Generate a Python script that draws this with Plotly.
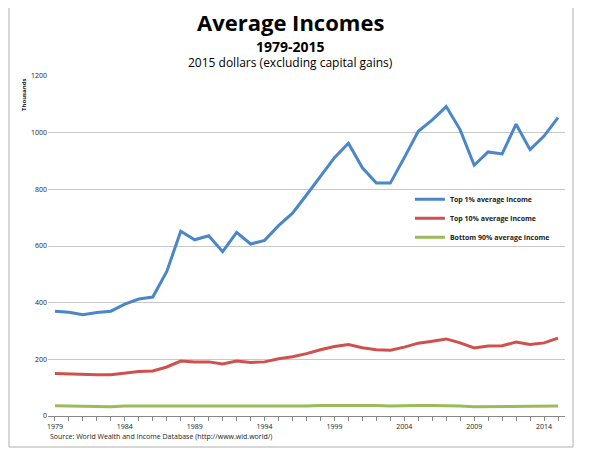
import plotly.graph_objects as go

years = list(range(1979, 2016))
top1 = [370, 366, 357, 365, 370, 395, 413, 420, 510, 652, 622, 636, 580, 648, 607, 620,
        672, 716, 780, 846, 912, 963, 876, 822, 822, 912, 1005, 1045, 1092, 1010, 885,
        932, 925, 1030, 940, 988, 1053]
top10 = [150, 148, 146, 146, 146, 152, 157, 159, 173, 194, 191, 191, 184, 194, 189, 191,
         202, 209, 220, 234, 245, 252, 241, 234, 232, 243, 257, 264, 272, 258, 240,
         247, 248, 261, 252, 258, 275]
bottom90 = [36, 35, 35, 35, 33, 35, 35, 35, 35, 35, 35, 35, 35, 34, 33, 35, 35, 35, 35,
            37, 37, 39, 37, 37, 35, 37, 37, 37, 37, 35, 33, 33, 33, 33, 33, 33, 35]

fig = go.Figure()
fig.add_trace(go.Scatter(x=years, y=top1, mode="lines", name="<b>Top 1% average income</b>",
                         line=dict(color="#4a86c8", width=3)))
fig.add_trace(go.Scatter(x=years, y=top10, mode="lines", name="<b>Top 10% average income</b>",
                         line=dict(color="#d0504d", width=3)))
fig.add_trace(go.Scatter(x=years, y=bottom90, mode="lines", name="<b>Bottom 90% average income</b>",
                         line=dict(color="#9bbb59", width=3)))

ticktext = [str(y) if (y - 1979) % 5 == 0 else "" for y in years]

fig.update_layout(
    width=614, height=460,
    margin=dict(l=40, r=57, t=68, b=52),
    paper_bgcolor="white", plot_bgcolor="white",
    font=dict(family="Open Sans", color="#222"),
    showlegend=True,
    legend=dict(x=0.70, y=0.68, xanchor="left", yanchor="top",
                font=dict(size=7, family="Open Sans"), bgcolor="rgba(0,0,0,0)",
                tracegroupgap=2),
    xaxis=dict(range=[1978.5, 2015.5], tickvals=years, ticktext=ticktext,
               ticks="outside", ticklen=4, tickcolor="#888", showgrid=False,
               showline=True, linecolor="#888", tickfont=dict(size=7), zeroline=False),
    yaxis=dict(range=[0, 1200], dtick=200, showgrid=True, gridcolor="#c8c8c8",
               gridwidth=1, showline=False, zeroline=False, tickfont=dict(size=7)),
)

def py(px):
    return (416 - px) / 340

fig.add_annotation(text="<b>Average Incomes</b>", xref="paper", yref="paper", yanchor="middle",
                   x=0.47, y=py(22), showarrow=False, font=dict(size=22, color="black"))
fig.add_annotation(text="<b>1979-2015</b>", xref="paper", yref="paper", yanchor="middle",
                   x=0.47, y=py(46), showarrow=False, font=dict(size=14, color="black"))
fig.add_annotation(text="2015 dollars (excluding capital gains)", xref="paper", yref="paper",
                   yanchor="middle", x=0.47, y=py(63), showarrow=False,
                   font=dict(size=12, color="black"))
fig.add_annotation(text="<b>Thousands</b>", xref="paper", yref="paper", textangle=-90,
                   x=(16 - 40) / 517, y=py(95), yanchor="middle", xanchor="center",
                   showarrow=False, font=dict(size=6, color="#222"))
fig.add_annotation(text="Source: World Wealth and Income Database (http://www.wid.world/)",
                   xref="paper", yref="paper", x=0, y=py(436), xanchor="left", yanchor="middle",
                   showarrow=False, font=dict(size=7, color="#222"))
fig.add_shape(type="rect", xref="paper", yref="paper",
              x0=(1 - 40) / 517, x1=(565 - 40) / 517, y0=py(447), y1=py(2),
              line=dict(color="#b0b0b0", width=1))

fig.write_html("out.html")
